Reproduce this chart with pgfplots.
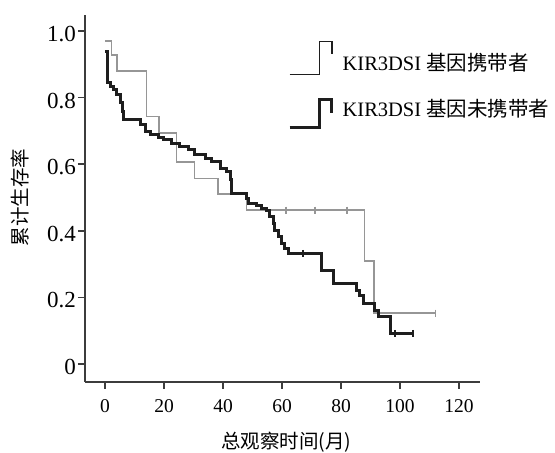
\documentclass[border=0pt]{standalone}
\usepackage{fontspec}
\setmainfont{Liberation Serif}
\newfontfamily\cjk{Noto Sans CJK SC}
\usepackage{pgfplots}
\pgfplotsset{compat=1.18}
\definecolor{cgray}{RGB}{150,150,150}
\definecolor{cblack}{RGB}{30,30,30}
\definecolor{caxis}{RGB}{60,60,60}
\pgfplotsset{
  legA/.style={legend image code/.code={\draw[##1] (0pt,-12pt) -- (30pt,-12pt) -- (30pt,21pt) -- (42.5pt,21pt) -- (42.5pt,8.5pt);}},
  legB/.style={legend image code/.code={\draw[##1] (0pt,-19pt) -- (29.5pt,-19pt) -- (29.5pt,9pt) -- (41.5pt,9pt) -- (41.5pt,-5pt);}},
}
\begin{document}
\begin{tikzpicture}
\useasboundingbox (0,0) rectangle (555pt,453pt);
\begin{axis}[
  at={(85pt,71pt)}, anchor=south west,
  scale only axis, width=395pt, height=367pt,
  xmin=-6.78, xmax=127.1, ymin=-0.054, ymax=1.048,
  axis lines=left,
  axis line style={line width=1.6pt, caxis, -},
  xtick={0,20,40,60,80,100,120},
  ytick={0,0.2,0.4,0.6,0.8,1.0},
  yticklabels={0,0.2,0.4,0.6,0.8,1.0},
  tick align=outside, major tick length=7pt,
  tick style={line width=1.6pt, caxis},
  /pgf/number format/assume math mode=true,
  xticklabel style={font=\fontsize{19.5}{22}\selectfont, inner sep=2pt, yshift=-8pt},
  yticklabel style={font=\fontsize{23}{26}\selectfont, inner sep=2pt, yshift=-3pt},
  xlabel={\cjk 总观察时间(月)},
  ylabel={\cjk 累计生存率},
  label style={font=\fontsize{19.5}{22}\selectfont},
  xlabel style={at={(axis description cs:0.5,0)}, anchor=center, yshift=-60pt, xshift=4pt},
  ylabel style={at={(axis description cs:0,0.5)}, anchor=center, yshift=65pt, xshift=1pt},
  legend cell align=left,
  legend style={at={(0.514,0.93)}, anchor=north west, draw=none, fill=none,
    inner sep=0pt, outer sep=0pt, row sep=23pt, column sep=9pt,
    font=\fontsize{20.5}{24}\selectfont, nodes={inner sep=1pt}},
]
\addlegendimage{legA, cblack, line width=1.2pt}
\addlegendentry{KIR3DSI {\cjk 基因携带者}}
\addlegendimage{legB, cblack, line width=3pt}
\addlegendentry{KIR3DSI {\cjk 基因未携带者}}

\addplot[const plot, cgray, line width=1.6pt, forget plot] coordinates {
 (0,0.97) (2.2,0.928) (4.0,0.88) (14.0,0.743) (18.3,0.694) (24.2,0.607)
 (30.3,0.557) (38.2,0.511) (48,0.462) (88,0.309) (91.2,0.153) (112,0.153)};
\addplot[only marks, mark=|, mark size=3.5pt, cgray, line width=1.4pt, forget plot] coordinates {
 (61.4,0.462) (71.2,0.462) (82,0.462) (112,0.153)};

\addplot[const plot, cblack, line width=3pt, forget plot] coordinates {
 (0,0.938) (0.8,0.844) (1.7,0.832) (2.8,0.823) (4.0,0.808) (5.1,0.784) (5.8,0.757)
 (6.2,0.733) (11.9,0.718) (13.6,0.698) (15.3,0.688) (18,0.679) (19.8,0.673)
 (22.6,0.663) (25.4,0.653) (28.2,0.643) (30.5,0.628) (33.9,0.618) (36.2,0.608)
 (39,0.588) (41.3,0.577) (42.4,0.553) (43,0.513) (48,0.498) (48.6,0.483)
 (51.4,0.477) (53.1,0.468) (54.8,0.462) (55.9,0.442) (57.1,0.423) (57.6,0.402)
 (58.7,0.382) (59.9,0.362) (61,0.347) (62.1,0.332) (73.5,0.28) (77.4,0.242)
 (85.3,0.222) (86.4,0.207) (87.6,0.182) (88.7,0.182) (91.5,0.162) (92.6,0.142)
 (96.6,0.092) (104.5,0.092)};
\addplot[only marks, mark=|, mark size=3.5pt, cblack, line width=2pt, forget plot] coordinates {
 (67.1,0.332) (98.3,0.092) (104.5,0.092)};
\end{axis}
\end{tikzpicture}
\end{document}
